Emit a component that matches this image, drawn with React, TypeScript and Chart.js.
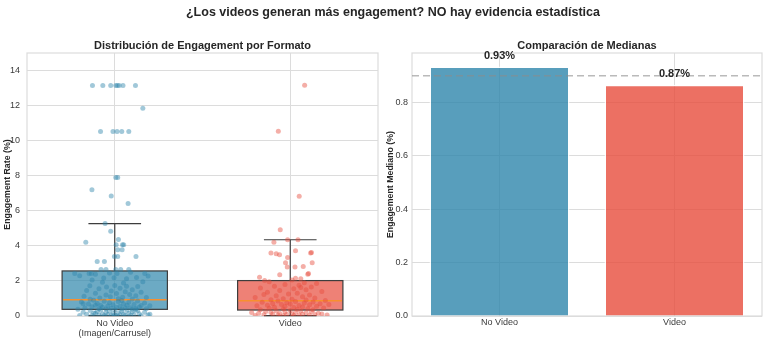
import React, { useEffect, useRef } from "react";
import { Chart, registerables } from "chart.js";
Chart.register(...registerables);

// ---------- DATA ----------
const mainTitle = "¿Los videos generan más engagement? NO hay evidencia estadística";
const leftTitle = "Distribución de Engagement por Formato";
const rightTitle = "Comparación de Medianas";
const boxCategories: string[][] = [["No Video", "(Imagen/Carrusel)"], ["Video"]];
const barCategories = ["No Video", "Video"];

// box statistics per format (Engagement Rate %)
const boxWhiskerLow = [0.02, 0.02];
const boxQ1 = [0.38, 0.34];
const boxMedian = [0.93, 0.87];
const boxQ3 = [2.57, 2.02];
const boxWhiskerHigh = [5.27, 4.35];

// strip points: [jitter offset, engagement rate]
const noVideoPoints: [number, number][] = [
  [-0.127, 13.15], [-0.068, 13.15], [-0.023, 13.15], [0.006, 13.15], [0.015, 13.15], [0.025, 13.15], [0.047, 13.15], [0.118, 13.15],
  [0.16, 11.85],
  [-0.081, 10.52], [-0.01, 10.52], [0.013, 10.52], [0.04, 10.52], [0.08, 10.52],
  [0.006, 7.9], [0.017, 7.9], [-0.13, 7.2], [-0.02, 6.85], [0.076, 6.42],
  [-0.055, 5.27], [-0.023, 4.83], [0.021, 4.37], [-0.165, 4.21],
  [0.008, 4.06], [0.044, 4.06], [0.051, 4.06], [0.017, 3.78], [0.042, 3.78],
  [-0.002, 3.39], [0.017, 3.39], [0.121, 3.39], [-0.1, 3.11], [-0.059, 3.11],
  [-0.078, 2.65], [-0.05, 2.65], [0.006, 2.65], [0.034, 2.65], [0.08, 2.65],
  [-0.228, 2.42], [-0.146, 2.42], [-0.133, 2.42], [0.013, 2.42], [0.171, 2.42],
  [-0.129, 2.06], [-0.063, 2.17], [-0.004, 2.18], [0.067, 2.12], [0.124, 2.2],
  [-0.142, 1.72], [-0.047, 1.66], [0.0, 1.74], [0.067, 1.7], [0.131, 1.68],
  [-0.2, 2.3], [0.19, 2.28], [-0.09, 1.55], [0.03, 1.58], [0.1, 1.5],
  [-0.16, 1.45], [-0.02, 1.42], [0.06, 1.38], [0.15, 1.35], [-0.11, 1.3],
  [0.01, 1.28], [0.085, 1.22], [-0.05, 1.2], [0.12, 1.15], [-0.175, 1.12],
  [-0.025, 1.1], [0.045, 1.07], [0.18, 1.05], [-0.085, 1.02], [0.02, 0.99],
  [0.1, 0.97], [-0.14, 0.96], [-0.03, 2.45], [0.09, 2.5], [-0.11, 2.38],
  [0.05, 1.88], [-0.07, 1.92], [0.16, 1.95],
  [-0.12, 0.9], [0.04, 0.88], [0.13, 0.86], [-0.06, 0.84], [0.02, 0.82],
  [-0.19, 0.8], [0.08, 0.78], [-0.03, 0.76], [0.17, 0.74], [-0.1, 0.72],
  [0.05, 0.7], [-0.15, 0.68], [0.11, 0.66], [-0.01, 0.64], [0.07, 0.62],
  [-0.08, 0.6], [0.2, 0.58], [-0.04, 0.57], [0.03, 0.55], [-0.13, 0.53],
  [0.14, 0.52], [-0.07, 0.5], [0.01, 0.49], [0.09, 0.47], [-0.17, 0.46],
  [0.06, 0.45], [-0.02, 0.44], [0.12, 0.43], [-0.09, 0.42], [0.18, 0.41],
  [-0.05, 0.4], [0.04, 0.4], [-0.21, 0.39], [0.1, 0.39], [-0.11, 0.62],
  [0.15, 0.6], [-0.18, 0.7],
  [0.0, 0.36], [-0.08, 0.34], [0.07, 0.33], [-0.14, 0.31], [0.13, 0.3],
  [-0.03, 0.28], [0.04, 0.27], [-0.1, 0.25], [0.1, 0.24], [-0.18, 0.22],
  [0.17, 0.21], [-0.05, 0.2], [0.02, 0.18], [-0.12, 0.17], [0.08, 0.16],
  [-0.01, 0.14], [0.14, 0.13], [-0.07, 0.12], [0.05, 0.11], [-0.16, 0.1],
  [0.11, 0.09], [-0.04, 0.08], [0.03, 0.07], [-0.09, 0.06], [0.19, 0.06],
  [0.0, 0.05], [-0.13, 0.04], [0.06, 0.04], [-0.02, 0.03], [0.09, 0.03],
  [-0.2, 0.03], [0.15, 0.02], [-0.06, 0.02], [0.01, 0.02], [-0.11, 0.15],
  [0.12, 0.35], [0.2, 0.1],
];

const videoPoints: [number, number][] = [
  [0.082, 13.16], [-0.068, 10.53], [0.051, 6.83], [-0.057, 4.92],
  [-0.093, 4.21], [-0.015, 4.35], [0.044, 4.35], [0.03, 3.72],
  [-0.11, 3.59], [-0.08, 3.55], [-0.061, 3.5], [0.116, 3.6], [0.121, 3.62],
  [-0.015, 3.34], [-0.027, 3.03], [0.125, 3.03], [-0.017, 2.8], [0.027, 2.8],
  [0.074, 2.82], [-0.06, 2.35], [0.1, 2.38], [0.104, 2.42], [-0.175, 2.21],
  [0.03, 2.15], [0.06, 2.12], [-0.146, 2.02], [0.01, 2.05],
  [-0.12, 1.95], [0.08, 1.9], [0.15, 1.85], [-0.03, 1.8], [0.05, 1.75],
  [-0.09, 1.7], [0.12, 1.65], [-0.17, 1.6], [0.02, 1.55], [0.09, 1.5],
  [-0.06, 1.45], [0.18, 1.4], [-0.13, 1.35], [0.04, 1.3], [-0.01, 1.25],
  [0.11, 1.2], [-0.08, 1.15], [0.07, 1.1], [-0.2, 1.05], [0.14, 1.02],
  [-0.04, 0.98], [0.01, 0.95], [-0.11, 0.93], [0.09, 0.91], [0.2, 0.89],
  [-0.15, 1.22], [0.06, 1.62],
  [-0.07, 0.85], [0.03, 0.83], [0.13, 0.8], [-0.16, 0.78], [-0.02, 0.76],
  [0.08, 0.74], [-0.1, 0.72], [0.17, 0.7], [0.0, 0.68], [-0.05, 0.66],
  [0.11, 0.64], [-0.13, 0.62], [0.05, 0.6], [-0.19, 0.58], [0.15, 0.56],
  [-0.03, 0.54], [0.07, 0.52], [-0.09, 0.5], [0.02, 0.48], [0.19, 0.46],
  [-0.12, 0.44], [0.1, 0.42], [-0.04, 0.4], [0.04, 0.38], [-0.17, 0.36],
  [0.13, 0.35], [0.22, 0.65],
  [0.0, 0.32], [-0.08, 0.3], [0.06, 0.28], [-0.14, 0.26], [0.12, 0.25],
  [-0.03, 0.23], [0.03, 0.21], [-0.11, 0.2], [0.09, 0.18], [-0.18, 0.16],
  [0.16, 0.15], [-0.06, 0.14], [0.01, 0.12], [-0.1, 0.11], [0.07, 0.1],
  [-0.02, 0.09], [0.14, 0.08], [-0.15, 0.07], [0.05, 0.06], [-0.07, 0.05],
  [0.11, 0.04], [-0.2, 0.03], [0.02, 0.03], [-0.04, 0.02], [0.18, 0.12],
  [0.21, 0.05], [-0.22, 0.2],
];

const medianValues = [0.934, 0.866];
const referenceLine = 0.9;

// ---------- STYLE ----------
const FONT = "'Liberation Sans', Arial, Helvetica, sans-serif";
const TEXT = "#262626";
const TICK = "#3a3a3a";
const GRID = "#dcdcdc";
const boxFill = ["rgba(46,134,171,0.7)", "rgba(231,76,60,0.7)"];
const pointFill = ["rgba(46,134,171,0.45)", "rgba(231,76,60,0.45)"];
const barFill = ["rgba(46,134,171,0.8)", "rgba(231,76,60,0.8)"];

const framePlugin = {
  id: "frame",
  beforeDatasetsDraw(chart: any) {
    const { ctx, chartArea: a } = chart;
    ctx.save();
    ctx.strokeStyle = GRID;
    ctx.lineWidth = 1.2;
    ctx.strokeRect(a.left, a.top, a.right - a.left, a.bottom - a.top);
    ctx.restore();
  },
};

const boxPlugin = {
  id: "boxes",
  beforeDatasetsDraw(chart: any) {
    const { ctx } = chart;
    const xs = chart.scales.x;
    const ys = chart.scales.y;
    ctx.save();
    for (let i = 0; i < boxQ1.length; i++) {
      const cx = xs.getPixelForValue(i);
      const hw = xs.getPixelForValue(i + 0.3) - cx;
      const cw = hw / 2;
      const yq1 = ys.getPixelForValue(boxQ1[i]);
      const yq3 = ys.getPixelForValue(boxQ3[i]);
      const ymed = ys.getPixelForValue(boxMedian[i]);
      const ylo = ys.getPixelForValue(boxWhiskerLow[i]);
      const yhi = ys.getPixelForValue(boxWhiskerHigh[i]);
      ctx.fillStyle = boxFill[i];
      ctx.fillRect(cx - hw, yq3, 2 * hw, yq1 - yq3);
      ctx.strokeStyle = "#3d3d3d";
      ctx.lineWidth = 1.2;
      ctx.strokeRect(cx - hw, yq3, 2 * hw, yq1 - yq3);
      ctx.beginPath();
      ctx.moveTo(cx, yq3); ctx.lineTo(cx, yhi);
      ctx.moveTo(cx - cw, yhi); ctx.lineTo(cx + cw, yhi);
      ctx.moveTo(cx, yq1); ctx.lineTo(cx, ylo);
      ctx.moveTo(cx - cw, ylo); ctx.lineTo(cx + cw, ylo);
      ctx.stroke();
      ctx.strokeStyle = "#f7902f";
      ctx.lineWidth = 1.5;
      ctx.beginPath();
      ctx.moveTo(cx - hw + 1, ymed); ctx.lineTo(cx + hw - 1, ymed);
      ctx.stroke();
    }
    ctx.restore();
  },
};

const barExtrasPlugin = {
  id: "barExtras",
  afterDatasetsDraw(chart: any) {
    const { ctx, chartArea: a } = chart;
    const xs = chart.scales.x;
    const ys = chart.scales.y;
    ctx.save();
    const yr = ys.getPixelForValue(referenceLine);
    ctx.strokeStyle = "rgba(140,140,140,0.6)";
    ctx.lineWidth = 1.5;
    ctx.setLineDash([7, 4]);
    ctx.beginPath();
    ctx.moveTo(a.left, yr); ctx.lineTo(a.right, yr);
    ctx.stroke();
    ctx.setLineDash([]);
    ctx.fillStyle = TEXT;
    ctx.font = `bold 11px ${FONT}`;
    ctx.textAlign = "center";
    ctx.textBaseline = "middle";
    medianValues.forEach((v, i) => {
      const x = xs.getPixelForValue(i);
      const y = ys.getPixelForValue(v);
      ctx.fillText(`${v.toFixed(2)}%`, x, y - 10.5);
    });
    ctx.restore();
  },
};

function BoxChart() {
  const ref = useRef<HTMLCanvasElement | null>(null);
  useEffect(() => {
    if (!ref.current) return;
    const chart = new Chart(ref.current, {
      type: "scatter",
      data: {
        datasets: [noVideoPoints, videoPoints].map((pts, i) => ({
          label: barCategories[i],
          data: pts.map(([j, v]) => ({ x: i + j, y: v })),
          backgroundColor: pointFill[i],
          borderWidth: 0,
          pointRadius: 2.5,
        })),
      },
      options: {
        animation: false,
        responsive: false,
        devicePixelRatio: 1,
        layout: { padding: { left: 0, right: 6, top: 0, bottom: 0 } },
        plugins: {
          legend: { display: false },
          tooltip: { enabled: false },
          title: {
            display: true,
            text: leftTitle,
            fullSize: false,
            color: TEXT,
            font: { family: FONT, size: 11, weight: "bold" },
            padding: { top: 39, bottom: 0.8 },
          },
        },
        scales: {
          x: {
            type: "linear",
            min: -0.5,
            max: 1.5,
            afterBuildTicks: (s: any) => { s.ticks = boxCategories.map((_, i) => ({ value: i })); },
            afterFit: (s: any) => { s.height = 25; },
            ticks: {
              color: TICK,
              font: { family: FONT, size: 9, lineHeight: 1.1 },
              padding: 2.5,
              maxRotation: 0,
              callback: (v: any) => boxCategories[Math.round(Number(v))] as any,
            },
            grid: { color: GRID, drawTicks: false },
            border: { display: false },
          },
          y: {
            min: 0,
            max: 15,
            afterFit: (s: any) => { s.width = 27; },
            ticks: {
              stepSize: 2,
              includeBounds: false,
              color: TICK,
              font: { family: FONT, size: 9 },
              padding: 7,
            },
            grid: { color: GRID, drawTicks: false },
            border: { display: false },
            title: {
              display: true,
              text: "Engagement Rate (%)",
              color: TEXT,
              font: { family: FONT, size: 8.8, weight: "bold" },
              padding: { top: 2, bottom: 0 },
            },
          },
        },
      } as any,
      plugins: [framePlugin, boxPlugin],
    });
    return () => chart.destroy();
  }, []);
  return <canvas ref={ref} width={384} height={341} style={{ position: "absolute", left: 0, top: 0 }} />;
}

function BarChart() {
  const ref = useRef<HTMLCanvasElement | null>(null);
  useEffect(() => {
    if (!ref.current) return;
    const chart = new Chart(ref.current, {
      type: "bar",
      data: {
        labels: barCategories,
        datasets: [
          {
            label: "Mediana",
            data: medianValues,
            backgroundColor: barFill,
            borderColor: "rgba(255,255,255,0.85)",
            borderWidth: 1.5,
            barPercentage: 0.8,
            categoryPercentage: 1,
          },
        ],
      },
      options: {
        animation: false,
        responsive: false,
        devicePixelRatio: 1,
        layout: { padding: { left: 0, right: 6, top: 0, bottom: 0 } },
        plugins: {
          legend: { display: false },
          tooltip: { enabled: false },
          title: {
            display: true,
            text: rightTitle,
            fullSize: false,
            color: TEXT,
            font: { family: FONT, size: 11, weight: "bold" },
            padding: { top: 39, bottom: 0.8 },
          },
        },
        scales: {
          x: {
            afterFit: (s: any) => { s.height = 25; },
            ticks: { color: TICK, font: { family: FONT, size: 9 }, padding: 1.5 },
            grid: { color: GRID, drawTicks: false, offset: false },
            border: { display: false },
          },
          y: {
            min: 0,
            max: 0.985,
            afterFit: (s: any) => { s.width = 28; },
            ticks: {
              stepSize: 0.2,
              includeBounds: false,
              color: TICK,
              font: { family: FONT, size: 9 },
              padding: 4,
              callback: (v: any) => Number(v).toFixed(1),
            },
            grid: { color: GRID, drawTicks: false },
            border: { display: false },
            title: {
              display: true,
              text: "Engagement Mediano (%)",
              color: TEXT,
              font: { family: FONT, size: 8.8, weight: "bold" },
              padding: { top: 1, bottom: 0 },
            },
          },
        },
      } as any,
      plugins: [framePlugin, barExtrasPlugin],
    });
    return () => chart.destroy();
  }, []);
  return <canvas ref={ref} width={384} height={341} style={{ position: "absolute", left: 384, top: 0 }} />;
}

export default function App() {
  return (
    <div
      style={{
        position: "fixed",
        left: 0,
        top: 0,
        width: 768,
        height: 341,
        background: "#ffffff",
        overflow: "hidden",
      }}
    >
      <BoxChart />
      <BarChart />
      <div
        style={{
          position: "absolute",
          left: 9,
          top: 4,
          width: 768,
          textAlign: "center",
          fontFamily: FONT,
          fontWeight: "bold",
          fontSize: 12.5,
          lineHeight: "16px",
          color: TEXT,
        }}
      >
        {mainTitle}
      </div>
    </div>
  );
}
